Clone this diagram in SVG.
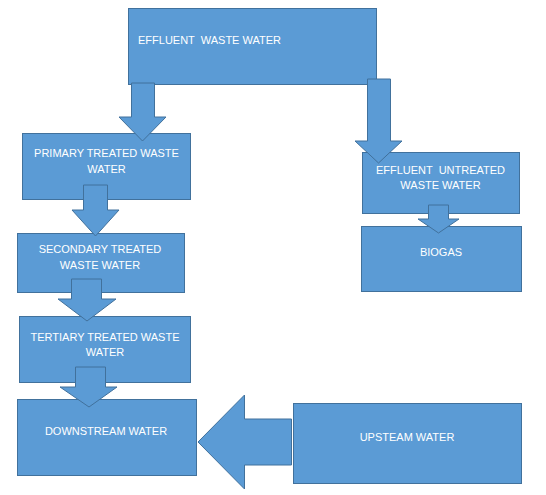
<svg xmlns="http://www.w3.org/2000/svg" width="546" height="495" viewBox="0 0 546 495">
<style>
.box{fill:#5B9BD5;stroke:#41719C;stroke-width:1}
.arr{fill:#5B9BD5;stroke:#41719C;stroke-width:1;stroke-linejoin:miter}
.t{font-family:"Liberation Sans",Arial,sans-serif;font-size:11px;fill:#FFFFFF}
.c{text-anchor:middle}
</style>
<rect width="546" height="495" fill="#FFFFFF"/>
<g id="n-effluent">
<rect class="box" x="128.5" y="8.5" width="248" height="76"/>
<text class="t" x="138" y="44" xml:space="preserve">EFFLUENT  WASTE WATER</text>
</g>
<g id="n-primary">
<rect class="box" x="22.5" y="133.5" width="168" height="66"/>
<text class="t c" x="106.5" y="157">PRIMARY TREATED WASTE</text>
<text class="t c" x="106.5" y="173">WATER</text>
</g>
<g id="n-secondary">
<rect class="box" x="17.5" y="233.5" width="167" height="59"/>
<text class="t c" x="100" y="253">SECONDARY TREATED</text>
<text class="t c" x="100" y="269">WASTE WATER</text>
</g>
<g id="n-tertiary">
<rect class="box" x="19.5" y="316.5" width="171" height="66"/>
<text class="t c" x="105" y="341">TERTIARY TREATED WASTE</text>
<text class="t c" x="105" y="356">WATER</text>
</g>
<g id="n-downstream">
<rect class="box" x="17.5" y="399.5" width="179" height="76"/>
<text class="t c" x="106" y="435">DOWNSTREAM WATER</text>
</g>
<g id="n-upsteam">
<rect class="box" x="293.5" y="403.5" width="228" height="80"/>
<text class="t c" x="407" y="441">UPSTEAM WATER</text>
</g>
<g id="n-untreated">
<rect class="box" x="362.5" y="152.5" width="157" height="61"/>
<text class="t c" x="440.5" y="174" xml:space="preserve">EFFLUENT  UNTREATED</text>
<text class="t c" x="440.5" y="189">WASTE WATER</text>
</g>
<g id="n-biogas">
<rect class="box" x="361.5" y="226.5" width="160" height="65"/>
<text class="t c" x="441" y="256">BIOGAS</text>
</g>
<g id="connectors">
<polygon class="arr" points="131.5,83 154.5,83 154.5,117 166,117 142.5,141 119,117 131.5,117"/>
<polygon class="arr" points="367.5,79 390.5,79 390.5,141 402,141 378.5,163 355,141 367.5,141"/>
<polygon class="arr" points="83.5,185 107.5,185 107.5,210 119,210 95.5,236 72,210 83.5,210"/>
<polygon class="arr" points="71.5,279 101.5,279 101.5,299 116,299 87,321 58,299 71.5,299"/>
<polygon class="arr" points="75.5,367 105.5,367 105.5,387 117,387 89,407 60,387 75.5,387"/>
<polygon class="arr" points="428.5,205 448.5,205 448.5,219 459,219 438.5,233 418,219 428.5,219"/>
<polygon class="arr" points="291.5,419 291.5,465 244.5,465 244.5,489 198,442 244.5,395 244.5,419"/>
</g>
</svg>
